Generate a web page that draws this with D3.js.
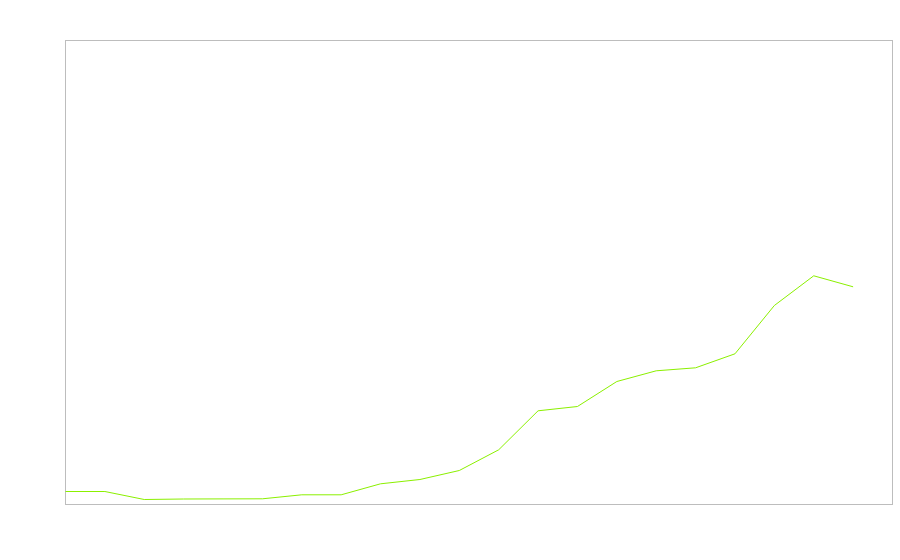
<!DOCTYPE html>
<html><head><meta charset="utf-8">
<script src="https://cdn.jsdelivr.net/npm/d3@7"></script>
<style>html,body{margin:0;padding:0;background:#fff;}svg{display:block;}</style>
</head><body>
<svg id="chart" width="900" height="560"></svg>
<script>
const categories = d3.range(21).map(i => "P" + (i + 1));
const values = [13, 13, 5, 5.5, 5.6, 5.7, 9.7, 9.7, 20.7, 25, 34, 54.7, 93.7, 98, 123, 133.7, 136.7, 150.7, 199, 228.7, 217.7];
const yDomain = [0, 464];

const svg = d3.select("#chart");
const m = {left: 65.5, top: 40.5, right: 892.5, bottom: 504.5};
const x = d3.scaleLinear().domain([0, 21]).range([m.left, m.right]);
const y = d3.scaleLinear().domain(yDomain).range([m.bottom, m.top]);

svg.append("rect")
  .attr("x", m.left).attr("y", m.top)
  .attr("width", m.right - m.left).attr("height", m.bottom - m.top)
  .attr("fill", "none").attr("stroke", "#bdbdbd").attr("stroke-width", 1);

const line = d3.line().x((d, i) => x(i)).y(d => y(d));
svg.append("path")
  .datum(values)
  .attr("d", line)
  .attr("fill", "none")
  .attr("stroke", "#8bf000")
  .attr("stroke-width", 1);
</script>
</body></html>
